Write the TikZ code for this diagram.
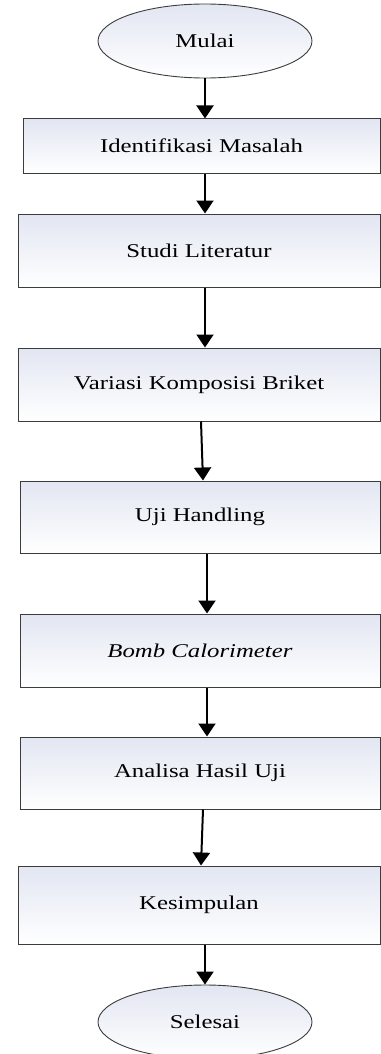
\documentclass[tikz,border=0pt]{standalone}
\usepackage{fontspec}
\setmainfont{Liberation Serif}[FakeStretch=1.27]
\usetikzlibrary{shapes.geometric,arrows.meta}
\definecolor{shadetop}{RGB}{226,230,242}
\definecolor{edgegray}{RGB}{60,60,60}
\tikzset{
  flowbox/.style={rectangle, draw=edgegray, line width=1pt, top color=shadetop, bottom color=white,
    inner sep=0pt, font=\fontsize{19.5pt}{22pt}\selectfont},
  termnode/.style={ellipse, draw=edgegray, line width=0.9pt, top color=shadetop, bottom color=white,
    inner sep=0pt, minimum width=214pt, minimum height=74pt, font=\fontsize{19.5pt}{22pt}\selectfont},
  flowarrow/.style={line width=2pt, -{Triangle[width=17pt,length=13pt]}}
}
\begin{document}
\begin{tikzpicture}[x=1pt,y=-1pt]
\useasboundingbox (0,0) rectangle (380,1054);
\node[termnode] (mulai) at (205,41) {Mulai};
\node[flowbox, minimum width=357pt, minimum height=54pt] (b1) at (201.5,146) {Identifikasi Masalah};
\node[flowbox, minimum width=362pt, minimum height=73pt] (b2) at (199,250.5) {Studi Literatur};
\node[flowbox, minimum width=362pt, minimum height=73pt] (b3) at (199,384.5) {Variasi Komposisi Briket};
\node[flowbox, minimum width=360pt, minimum height=72pt] (b4) at (200,517) {Uji Handling};
\node[flowbox, minimum width=360pt, minimum height=73pt] (b5) at (200,650.5) {\itshape Bomb Calorimeter};
\node[flowbox, minimum width=360pt, minimum height=72pt] (b6) at (200,773) {Analisa Hasil Uji};
\node[flowbox, minimum width=362pt, minimum height=78pt] (b7) at (199,905) {Kesimpulan};
\node[termnode] (selesai) at (205,1022) {Selesai};
\draw[flowarrow] (mulai.south) -- ([xshift=3.5pt]b1.north);
\draw[flowarrow] ([xshift=3.5pt]b1.south) -- ([xshift=6pt]b2.north);
\draw[flowarrow] ([xshift=6pt]b2.south) -- ([xshift=6pt]b3.north);
\draw[flowarrow] ([xshift=2pt]b3.south) -- ([xshift=3pt]b4.north);
\draw[flowarrow] ([xshift=7pt]b4.south) -- ([xshift=7pt]b5.north);
\draw[flowarrow] ([xshift=7pt]b5.south) -- ([xshift=7pt]b6.north);
\draw[flowarrow] ([xshift=3pt]b6.south) -- ([xshift=2pt]b7.north);
\draw[flowarrow] ([xshift=6pt]b7.south) -- (selesai.north);
\end{tikzpicture}
\end{document}
